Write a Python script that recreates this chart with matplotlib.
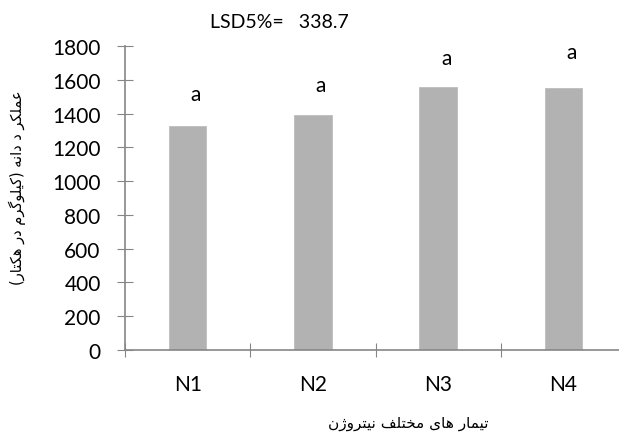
import matplotlib.pyplot as plt

# Grain yield by nitrogen treatment
treatments = ["N1", "N2", "N3", "N4"]
grain_yield = [1326, 1390, 1555, 1553]
groups = ["a", "a", "a", "a"]
group_height = [1516, 1569, 1729, 1764]
lsd_text = "LSD5%=   338.7"
xlabel_fa = "تیمار های مختلف نیتروژن"
ylabel_fa = "عملکر د دانه (کیلوگرم در هکتار)"

# Arabic-script letter forms: isolated, final, initial, medial
FORMS = {
    "\u0627": ("\uFE8D", "\uFE8E", None, None),
    "\u062A": ("\uFE95", "\uFE96", "\uFE97", "\uFE98"),
    "\u062E": ("\uFEA5", "\uFEA6", "\uFEA7", "\uFEA8"),
    "\u062F": ("\uFEA9", "\uFEAA", None, None),
    "\u0631": ("\uFEAD", "\uFEAE", None, None),
    "\u0639": ("\uFEC9", "\uFECA", "\uFECB", "\uFECC"),
    "\u0641": ("\uFED1", "\uFED2", "\uFED3", "\uFED4"),
    "\u0644": ("\uFEDD", "\uFEDE", "\uFEDF", "\uFEE0"),
    "\u0645": ("\uFEE1", "\uFEE2", "\uFEE3", "\uFEE4"),
    "\u0646": ("\uFEE5", "\uFEE6", "\uFEE7", "\uFEE8"),
    "\u0647": ("\uFEE9", "\uFEEA", "\uFEEB", "\uFEEC"),
    "\u0648": ("\uFEED", "\uFEEE", None, None),
    "\u0698": ("\uFB8A", "\uFB8B", None, None),
    "\u06A9": ("\uFB8E", "\uFB8F", "\uFB90", "\uFB91"),
    "\u06AF": ("\uFB92", "\uFB93", "\uFB94", "\uFB95"),
    "\u06CC": ("\uFBFC", "\uFBFD", "\uFBFE", "\uFBFF"),
}


def shape_fa(s):
    out = []
    for i, ch in enumerate(s):
        if ch not in FORMS:
            out.append(ch)
            continue
        prev = s[i - 1] if i > 0 else ""
        nxt = s[i + 1] if i < len(s) - 1 else ""
        jp = prev in FORMS and FORMS[prev][2] is not None
        jn = nxt in FORMS and FORMS[ch][2] is not None
        iso, fin, ini, med = FORMS[ch]
        if jp and jn:
            out.append(med)
        elif jp:
            out.append(fin)
        elif jn:
            out.append(ini)
        else:
            out.append(iso)
    vis = "".join(reversed(out))
    return vis.translate(str.maketrans("()", ")("))


plt.rcParams["font.family"] = ["Lato", "DejaVu Sans"]
axis_grey = "#868686"

fig = plt.figure(figsize=(6.19, 4.35), dpi=100)
ax = fig.add_axes([125 / 619, 84 / 435, 501 / 619, 304 / 435])

x = range(1, len(treatments) + 1)
ax.bar(x, grain_yield, width=0.3, color="#b2b2b2", edgecolor="#bdbdbd", linewidth=0.6)
for xi, g, h in zip(x, groups, group_height):
    ax.text(xi + 0.065, h, g, ha="center", va="center", fontsize=15)

ax.set_xlim(0.5, 4.5)
ax.set_ylim(0, 1800)
ax.set_yticks(range(0, 1801, 200))
ax.set_xticks([0.5, 1.5, 2.5, 3.5, 4.5])
ax.set_xticklabels([])
ax.set_xticks(list(x), treatments, minor=True)
ax.tick_params(axis="x", which="minor", length=0, pad=17, labelsize=15)
ax.tick_params(axis="x", which="major", direction="inout", length=10, color=axis_grey)
ax.tick_params(axis="y", direction="inout", length=11, color=axis_grey, pad=12, labelsize=15)

for side in ["top", "right"]:
    ax.spines[side].set_visible(False)
for side in ["left", "bottom"]:
    ax.spines[side].set_color(axis_grey)
    ax.spines[side].set_linewidth(1.2)

fig.text(279 / 619, 1 - 23 / 435, lsd_text, ha="center", va="center", fontsize=14)
fig.text(408 / 619, 1 - 424 / 435, shape_fa(xlabel_fa), ha="center", va="center",
         fontsize=11, family="DejaVu Sans")
fig.text(17 / 619, 1 - 188 / 435, shape_fa(ylabel_fa), ha="center", va="center",
         rotation=90, fontsize=10.5, family="DejaVu Sans")

fig.savefig("out.png", dpi=100)
